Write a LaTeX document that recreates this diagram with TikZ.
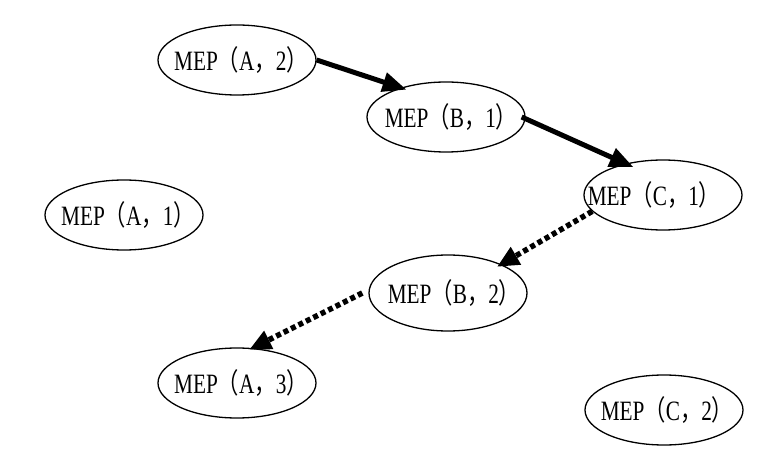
\documentclass[tikz,border=0pt]{standalone}
\usepackage{fontspec}
\setmainfont{Liberation Serif}
\newfontfamily\cjkfont{Noto Sans CJK SC}
\usetikzlibrary{shapes.geometric,arrows.meta}
\newcommand\mylp{{\cjkfont （}}
\newcommand\myrp{{\cjkfont ）}}
\newcommand\mycm{{\cjkfont ，}}
\newcommand\mep[3]{\makebox[100pt]{\kern#1pt\scalebox{0.76}[1]{MEP\mylp #2\mycm #3\myrp}\kern-#1pt}}
\begin{document}
\begin{tikzpicture}[x=1pt,y=-1pt,
  mepnode/.style={draw,ellipse,line width=1.3pt,minimum width=158pt,minimum height=70pt,inner sep=0pt,font=\fontsize{28}{33}\selectfont},
  solidarrow/.style={line width=5pt,-{Triangle[length=24pt,width=19pt]}},
  dotarrow/.style={line width=5.5pt,dash pattern=on 5pt off 3.3pt,-{Triangle[length=22pt,width=19pt]}}]
\useasboundingbox (0,0) rectangle (784,462);
\node[mepnode] (a2) at (237,60) {\mep{4}{A}{2}};
\node[mepnode] (b1) at (446,117) {\mep{5}{B}{1}};
\node[mepnode] (c1) at (663,195) {\mep{-9}{C}{1}};
\node[mepnode] (a1) at (124,215) {\mep{4}{A}{1}};
\node[mepnode, minimum height=76pt] (b2) at (448,293) {\mep{6}{B}{2}};
\node[mepnode] (a3) at (237,383) {\mep{4}{A}{3}};
\node[mepnode] (c2) at (664,410) {\mep{3}{C}{2}};
\draw[solidarrow] (a2.east) -- ([shift={(-6pt,-5pt)}]b1.136);
\draw[solidarrow] ([xshift=-4pt]b1.east) -- ([shift={(-4pt,-6pt)}]c1.127);
\draw[dotarrow] (c1.193) -- ([shift={(8pt,-7pt)}]b2.39);
\draw[dotarrow] ([xshift=-6pt]b2.west) -- ([shift={(0pt,-2pt)}]a3.71);
\end{tikzpicture}
\end{document}
